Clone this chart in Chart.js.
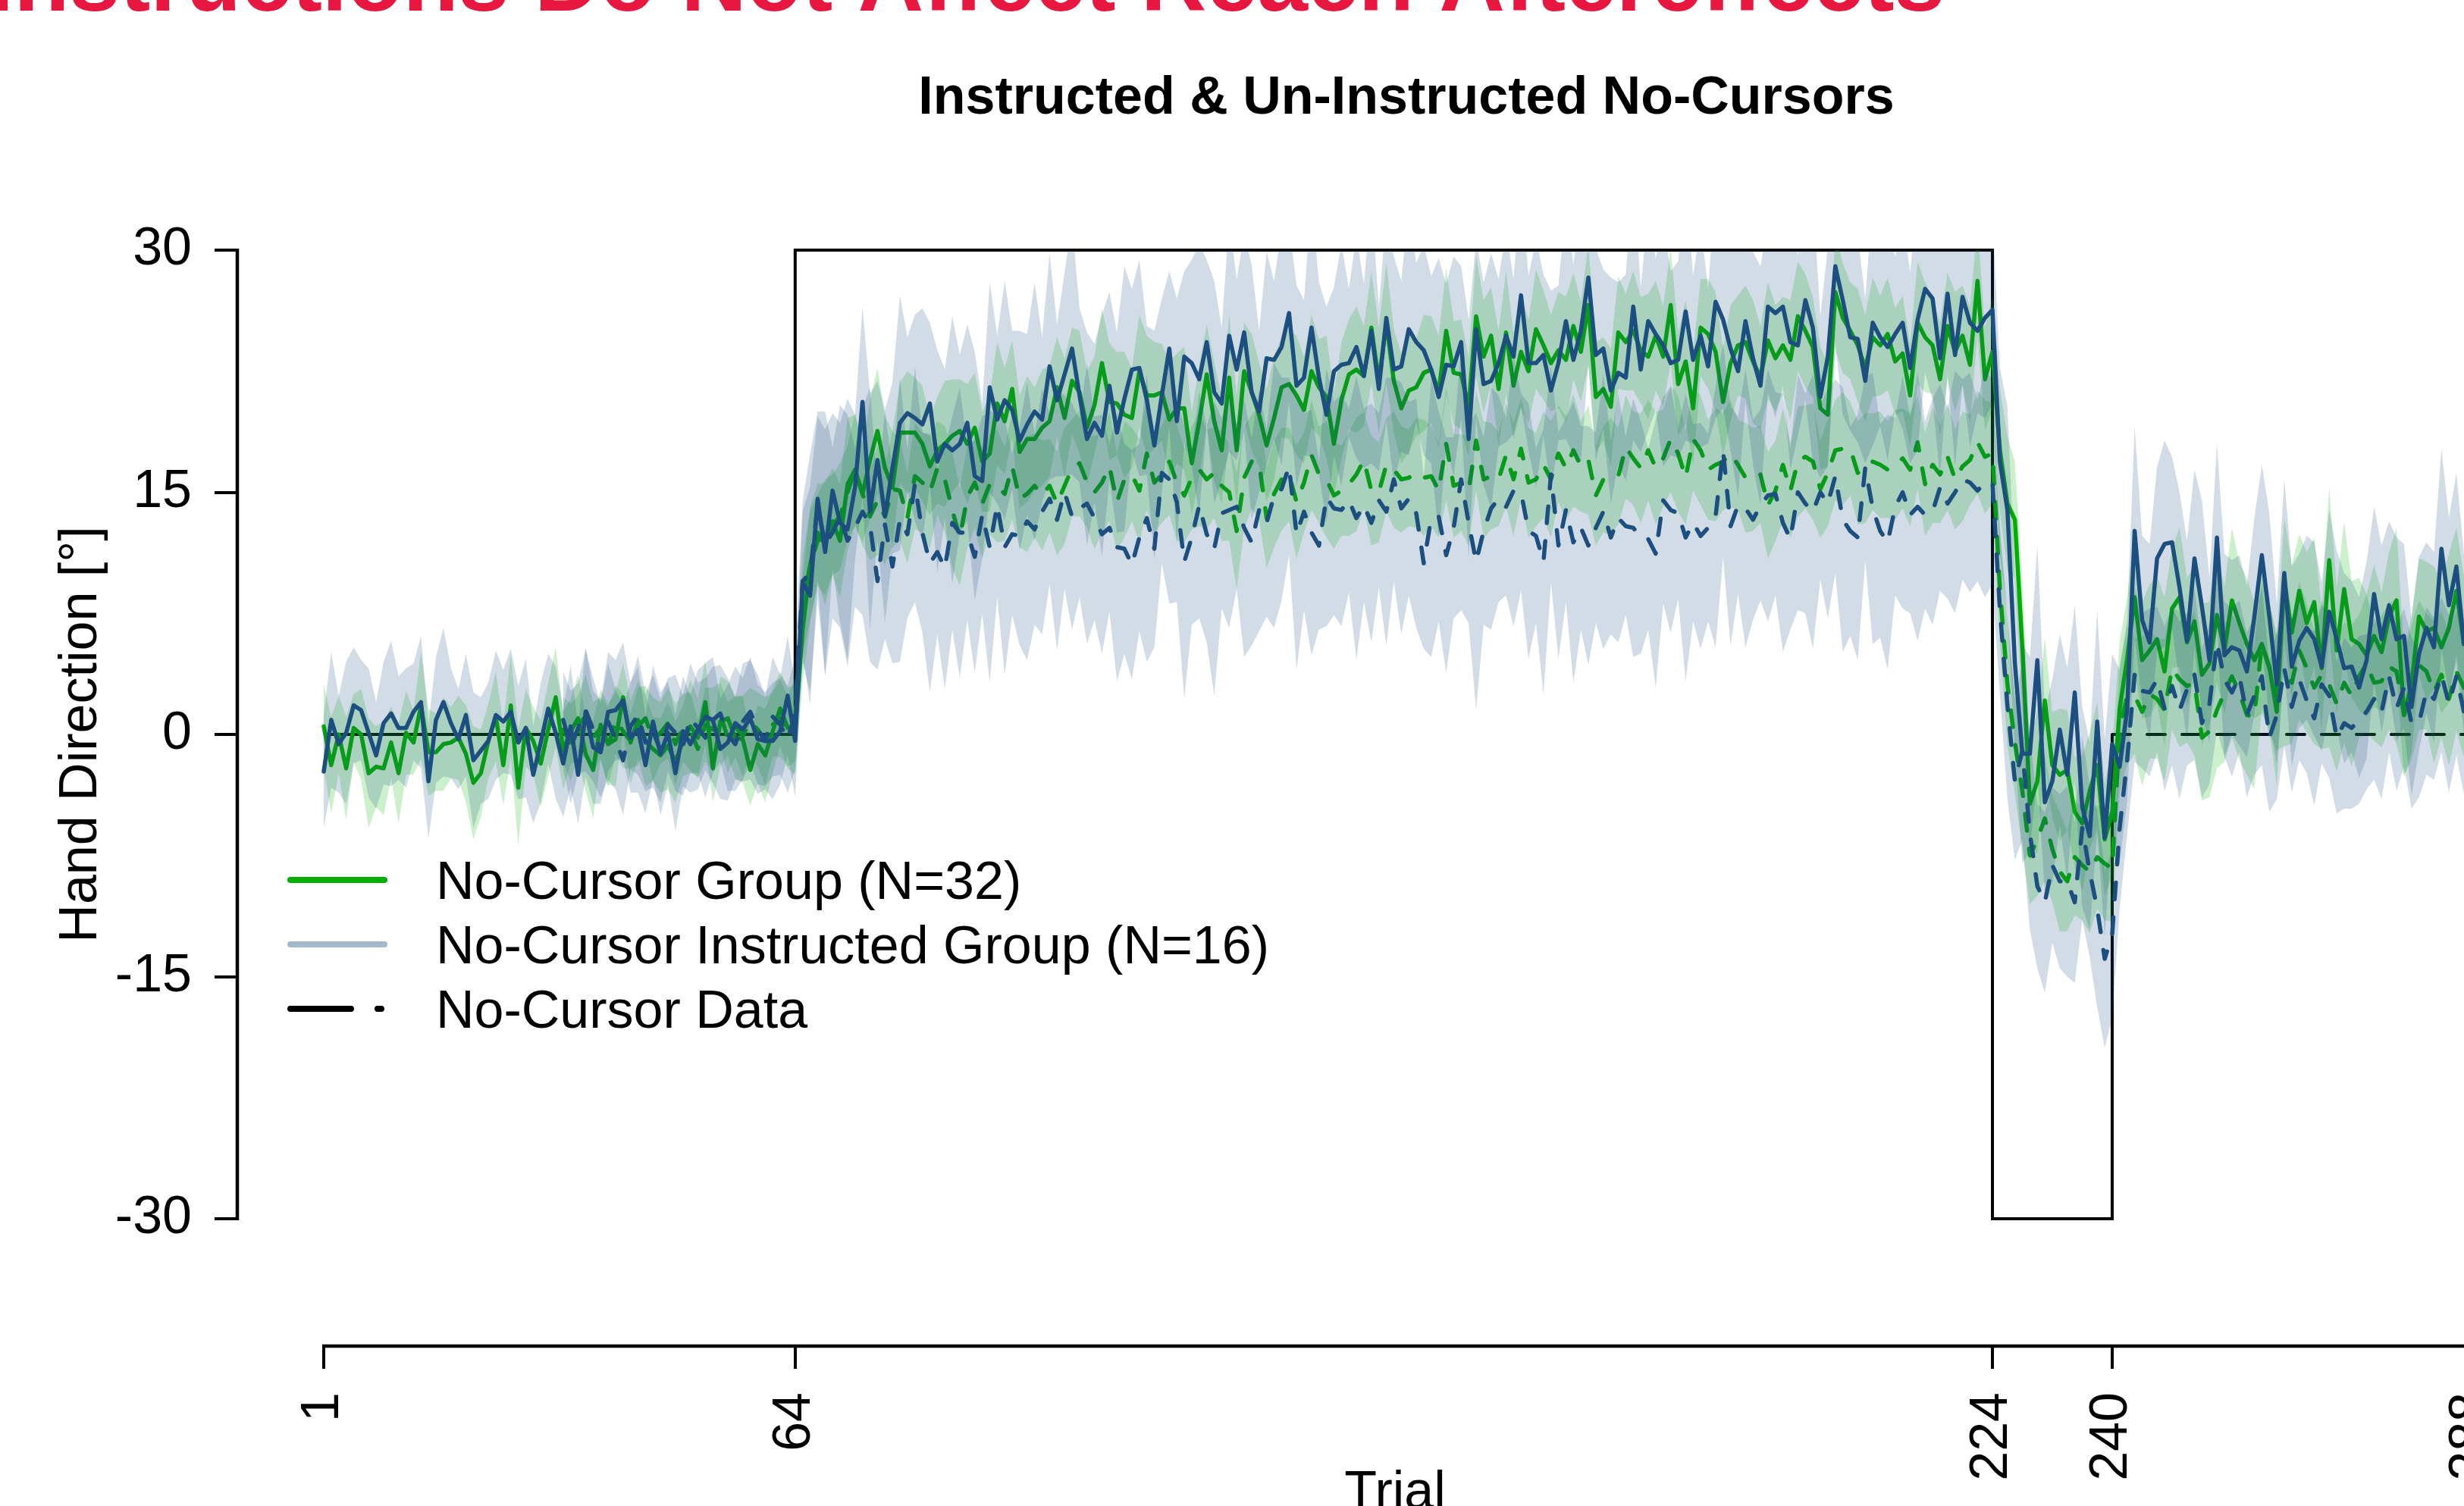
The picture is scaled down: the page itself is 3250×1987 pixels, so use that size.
<!DOCTYPE html>
<html>
<head>
<meta charset="utf-8">
<script src="https://cdn.jsdelivr.net/npm/chart.js@4.4.1/dist/chart.umd.min.js"></script>
<style>
  html, body { margin: 0; padding: 0; overflow: hidden; background: #fff; width: 3250px; height: 1987px; }
  canvas { display: block; }
</style>
</head>
<body>
<canvas id="myChart" width="3290" height="1987"></canvas>
<script>
var yTicks = [-30, -15, 0, 15, 30];
var xTicks = [1, 64, 224, 240, 288];

// perturbation schedule
var schedTrials = [1, 64, 64, 224, 224, 240, 240];
var schedRot = [0, 0, 30, 30, -30, -30, 0];
var clampTrials = [240, 288];
var clampRot = [0, 0];

// No-Cursor Group (N=32), reach trials, trials 1..288
var ncReach = [
  0.5, -1.9, 0.0, -2.1, 0.4, 0.0, -2.4, -2.0, -2.1, -0.5, -2.4, 0.1, -0.5, 1.8, -1.1, -1.1,
  -0.6, -0.5, -0.2, -1.2, -3.0, -2.4, -0.4, 1.1, -1.9, 1.8, -3.3, 0.4, -0.4, -1.8, 0.3, 2.3,
  -1.0, 0.2, 1.0, -1.2, -2.2, 0.6, -0.6, -0.3, 2.3, -0.5, 0.9, -0.4, -0.9, -1.3, -0.7, -1.7,
  -0.4, 0.5, -0.2, 2.0, -2.1, 0.8, 1.0, -0.2, -0.3, -2.2, -0.6, -1.3, 0.2, 1.6, 0.4, 0.3,
  6.5, 10.5, 12.5, 11.8, 13.2, 12.0, 15.5, 16.4, 14.9, 17.0, 18.8, 16.5, 15.3, 18.7, 18.7, 18.7,
  18.0, 16.6, 17.6, 18.0, 18.5, 18.8, 18.0, 19.0, 16.9, 17.4, 20.5, 19.4, 21.4, 17.5, 18.3, 18.3,
  19.0, 19.4, 21.5, 19.6, 21.9, 21.2, 19.0, 20.4, 23.0, 20.6, 20.5, 19.8, 19.6, 22.5, 21.0, 21.0,
  21.2, 19.5, 20.2, 20.2, 16.8, 19.4, 22.3, 19.4, 17.6, 22.1, 17.6, 22.5, 21.2, 19.8, 17.9, 19.6,
  21.5, 21.7, 21.0, 20.1, 22.5, 21.5, 20.9, 18.0, 20.7, 22.3, 22.6, 22.2, 25.2, 21.9, 25.5, 21.9,
  20.2, 21.3, 21.5, 22.4, 22.6, 21.2, 25.0, 22.4, 22.3, 20.3, 25.9, 23.4, 24.7, 21.4, 24.9, 21.6,
  23.7, 22.5, 25.1, 24.1, 23.0, 23.8, 23.2, 25.3, 23.7, 26.6, 20.9, 21.4, 20.3, 24.9, 24.3, 25.0,
  23.8, 23.4, 24.7, 23.4, 26.6, 21.7, 23.1, 20.2, 25.2, 24.8, 23.7, 20.6, 23.0, 24.1, 24.3, 23.1,
  22.1, 24.4, 23.3, 24.1, 23.2, 25.9, 25.0, 24.0, 20.2, 19.8, 27.4, 25.8, 25.0, 24.1, 22.7, 24.6,
  24.1, 24.8, 23.1, 23.6, 21.0, 25.5, 24.6, 24.1, 22.0, 25.3, 23.7, 24.7, 22.9, 28.1, 22.0, 23.7,
  17.6, 14.3, 13.3, 5.4, -4.3, -2.9, 2.1, -1.9, -2.5, -2.2, -4.8, -5.5, -3.5, -1.9, -6.5, -4.8,
  1.6, 4.7, 8.5, 4.6, 5.2, 5.9, 3.9, 7.8, 8.5, 5.7, 7.0, 3.7, 4.4, 7.4, 5.2, 8.3,
  6.9, 5.6, 4.6, 5.6, 4.2, 1.4, 9.6, 6.3, 8.9, 6.9, 8.2, 4.1, 10.8, 5.2, 9.0, 5.9,
  5.6, 4.9, 6.1, 5.1, 7.3, 8.3, 1.2, 3.1, 7.3, 6.4, 6.6, 5.4, 6.6, 8.9, 5.6, 6.0
];
var ncReachCI = [
  2.6, 3.0, 2.4, 3.2, 2.1, 2.8, 3.4, 2.5, 2.9, 2.2, 3.1, 2.6, 2.0, 3.3, 2.7, 2.4,
  2.9, 2.2, 2.6, 3.0, 3.5, 2.7, 2.3, 2.8, 2.5, 3.2, 3.6, 2.4, 2.1, 2.7, 2.9, 3.1,
  2.4, 2.0, 2.7, 2.3, 3.0, 2.2, 2.5, 2.9, 2.1, 2.6, 2.4, 2.8, 2.0, 2.3, 2.7, 2.5,
  2.2, 2.9, 2.4, 2.6, 2.1, 2.8, 2.3, 2.5, 2.7, 2.2, 2.4, 2.9, 2.6, 2.3, 2.5, 2.8,
  3.2, 3.6, 3.0, 3.8, 3.3, 3.5, 4.1, 3.4, 3.0, 3.7, 3.9, 3.2, 3.5, 3.1, 3.8, 3.4,
  3.6, 3.0, 3.3, 3.9, 3.5, 3.2, 3.7, 3.4, 3.1, 3.6, 3.8, 3.3, 3.0, 3.5, 3.9, 3.2,
  3.6, 3.4, 3.1, 3.7, 3.3, 3.8, 3.5, 3.0, 3.4, 3.6, 3.2, 3.9, 3.1, 3.5, 3.7, 3.3,
  3.0, 3.6, 3.4, 3.8, 3.2, 3.5, 3.1, 3.7, 3.3, 3.9, 3.4, 3.0, 3.6, 3.2, 3.5, 3.8,
  3.1, 3.4, 3.7, 3.3, 3.5, 3.0, 3.8, 3.2, 3.6, 3.4, 3.9, 3.1, 3.5, 3.3, 3.7, 3.2,
  3.4, 3.8, 3.0, 3.6, 3.3, 3.5, 3.9, 3.2, 3.4, 3.1, 3.7, 3.5, 3.0, 3.6, 3.8, 3.3,
  3.5, 3.2, 3.7, 3.4, 3.0, 3.6, 3.9, 3.3, 3.1, 3.8, 3.4, 3.2, 3.6, 3.5, 3.0, 3.7,
  3.3, 3.9, 3.4, 3.1, 3.6, 3.2, 3.8, 3.5, 3.0, 3.4, 3.7, 3.3, 3.6, 3.1, 3.5, 3.8,
  3.2, 3.6, 3.3, 3.0, 3.7, 3.4, 3.5, 3.1, 3.8, 3.2, 3.6, 3.4, 3.0, 3.5, 3.3, 3.7,
  3.1, 3.5, 3.3, 3.6, 3.2, 3.8, 3.4, 3.0, 3.5, 3.3, 3.7, 3.1, 3.6, 3.4, 3.2, 3.5,
  3.8, 4.2, 3.6, 4.0, 3.5, 4.4, 3.9, 3.3, 4.1, 3.7, 3.4, 4.2, 3.6, 3.9, 3.5, 4.0,
  4.2, 3.8, 4.5, 3.6, 4.1, 3.9, 4.6, 3.7, 4.3, 4.0, 3.5, 4.4, 3.8, 4.2, 3.9, 4.5,
  3.7, 4.1, 3.6, 4.3, 3.9, 4.6, 3.8, 4.2, 3.5, 4.4, 4.0, 3.7, 4.5, 3.9, 4.2, 3.6,
  4.1, 3.8, 4.4, 3.7, 4.0, 4.5, 3.9, 4.2, 3.6, 4.3, 3.8, 4.1, 4.6, 3.9, 4.2, 4.0
];

// No-Cursor Group (N=32), no-cursor trials
var ncNoCur = [
  null, null, null, null, null, null, null, null, null, null, null, null, null, null, null, null,
  null, null, null, null, null, null, null, null, null, null, null, null, null, null, null, null,
  0.3, -0.5, 0.6, 1.1, -0.2, 0.4, -0.8, 0.9, 0.2, -0.4, 0.5, 1.0, -0.3, 0.1, 0.7, -0.6,
  0.4, 0.2, -0.9, 0.6, 0.3, 1.2, -0.2, 0.5, -0.1, 0.8, 0.3, -0.4, 0.6, 1.0, 0.2, 0.9,
  8.0, 10.5, 12.0, 12.2, 13.0, 13.5, 15.0, 16.4, 14.9, 13.5, 14.5, 13.5, 15.2, 15.1, 13.4, 16.0,
  15.6, 15.0, 16.5, 15.8, 13.9, 12.2, 14.7, 15.6, 14.3, 15.5, 15.4, 14.9, 16.6, 14.6, 14.9, 15.4,
  14.8, 15.4, 14.3, 15.4, 16.5, 16.8, 15.6, 15.0, 15.6, 16.6, 14.4, 15.8, 16.1, 15.1, 17.4, 15.6,
  16.1, 16.9, 15.6, 14.8, 15.9, 16.4, 15.8, 16.2, 15.4, 15.0, 12.6, 15.9, 16.9, 16.8, 13.4, 14.9,
  15.8, 16.1, 14.4, 15.6, 17.3, 16.1, 15.8, 14.8, 15.1, 15.5, 16.1, 17.0, 15.1, 15.0, 16.7, 16.4,
  15.8, 15.9, 16.2, 15.9, 16.0, 15.1, 18.0, 15.4, 15.6, 15.1, 18.2, 15.8, 16.0, 15.8, 17.3, 15.8,
  17.7, 15.6, 15.8, 16.7, 15.8, 17.4, 16.5, 17.6, 16.6, 17.0, 14.8, 15.8, 16.0, 16.0, 17.8, 17.1,
  16.5, 17.6, 16.5, 17.1, 18.3, 17.4, 15.9, 18.3, 17.6, 16.4, 16.7, 16.9, 17.4, 16.7, 15.9, 15.8,
  16.1, 14.2, 15.1, 16.7, 15.1, 16.9, 17.2, 16.9, 15.2, 16.2, 17.6, 17.7, 17.7, 16.2, 16.5, 16.9,
  16.7, 16.4, 16.7, 17.1, 16.4, 18.1, 15.5, 16.7, 16.1, 17.2, 15.8, 16.6, 17.0, 18.1, 17.2, 17.4,
  9.0, 3.1, -0.5, -3.5, -7.5, -6.5, -5.2, -7.1, -8.5, -9.1, -7.6, -8.1, -8.5, -7.6, -8.0, -8.3,
  0.4, 2.4, 2.4, 1.4, 2.5, 2.2, 1.5, 4.1, 3.4, 3.0, 3.2, -0.2, 0.2, 1.5, 2.6, 3.6,
  2.6, 1.2, 1.1, 5.6, 4.1, 2.6, 3.7, 3.2, 5.2, 4.1, 2.9, 3.7, 3.1, 1.9, 3.2, 2.4,
  3.6, 4.4, 3.2, 3.3, 4.2, 3.9, 1.2, 2.6, 4.3, 3.9, 2.6, 3.7, 2.2, 3.9, 2.9, 3.4
];
var ncNoCurCI = [
  null, null, null, null, null, null, null, null, null, null, null, null, null, null, null, null,
  null, null, null, null, null, null, null, null, null, null, null, null, null, null, null, null,
  2.0, 2.4, 1.8, 2.6, 2.2, 1.9, 2.5, 2.1, 2.3, 1.7, 2.4, 2.0, 2.6, 1.9, 2.2, 2.5,
  2.1, 2.4, 1.8, 2.3, 2.6, 2.0, 2.2, 1.9, 2.5, 2.1, 2.3, 2.7, 2.0, 2.4, 2.2, 2.6,
  3.0, 3.4, 2.8, 3.6, 3.1, 3.3, 2.9, 3.5, 3.2, 2.7, 3.4, 3.0, 3.6, 3.1, 2.8, 3.3,
  3.1, 3.5, 2.9, 3.3, 3.6, 3.0, 3.2, 2.8, 3.4, 3.1, 3.5, 2.9, 3.3, 3.0, 3.6, 3.2,
  3.4, 2.9, 3.2, 3.6, 3.0, 3.3, 2.8, 3.5, 3.1, 3.4, 3.0, 3.6, 2.9, 3.2, 3.5, 3.1,
  3.0, 3.3, 3.6, 2.9, 3.2, 3.5, 3.1, 2.8, 3.4, 3.0, 3.6, 3.2, 2.9, 3.5, 3.1, 3.3,
  3.2, 2.9, 3.5, 3.1, 3.4, 3.0, 3.6, 3.3, 2.8, 3.2, 3.5, 3.0, 3.4, 3.1, 2.9, 3.6,
  3.3, 3.0, 3.4, 3.6, 3.1, 2.9, 3.5, 3.2, 3.0, 3.4, 3.1, 3.6, 3.3, 2.9, 3.2, 3.5,
  3.1, 3.4, 2.9, 3.3, 3.6, 3.0, 3.2, 3.5, 2.8, 3.4, 3.1, 3.3, 3.6, 3.0, 3.2, 2.9,
  3.4, 3.1, 3.5, 3.0, 3.3, 3.6, 2.9, 3.2, 3.4, 3.1, 3.5, 3.0, 3.3, 2.8, 3.4, 3.2,
  3.0, 3.3, 3.1, 3.5, 2.9, 3.4, 3.2, 3.6, 3.0, 3.3, 3.1, 3.5, 2.9, 3.2, 3.4, 3.0,
  3.3, 3.0, 3.4, 3.1, 3.5, 2.9, 3.2, 3.6, 3.0, 3.3, 3.1, 3.4, 2.8, 3.2, 3.5, 3.1,
  3.4, 3.8, 3.2, 3.6, 3.0, 3.5, 3.9, 3.3, 3.7, 3.1, 3.6, 3.4, 3.8, 3.2, 3.5, 3.3,
  3.9, 4.3, 3.6, 4.6, 4.0, 3.7, 4.4, 3.8, 4.2, 3.5, 4.5, 3.9, 4.1, 3.6, 4.3, 3.8,
  4.2, 3.7, 4.5, 3.9, 4.1, 3.6, 4.4, 3.8, 4.3, 4.0, 3.5, 4.6, 3.9, 4.2, 3.7, 4.4,
  3.8, 4.3, 3.6, 4.1, 3.9, 4.5, 3.7, 4.2, 4.0, 3.6, 4.4, 3.9, 4.1, 3.7, 4.3, 4.0
];

// No-Cursor Instructed Group (N=16), reach trials
var insReach = [
  -2.3, 0.9, -0.6, 0.1, 1.8, 1.5, 0.1, -1.3, 0.7, 1.3, 0.4, 0.4, 1.4, 2.0, -2.9, 0.9,
  2.0, 0.7, -0.3, 1.2, -1.6, -1.0, -0.4, 1.2, 0.8, 1.4, -0.5, 0.4, -2.5, -0.5, 1.6, 0.1,
  -1.8, 0.5, -2.5, 1.4, -0.8, -1.1, 1.4, 1.5, 2.1, -0.2, 0.3, -1.9, 0.8, -1.2, 0.1, -2.4,
  0.2, -0.6, 0.3, 1.1, 0.9, -0.9, -0.5, 0.7, 0.3, 1.0, -0.3, -0.4, -0.4, 0.2, 2.4, -0.4,
  9.4, 8.6, 14.6, 11.3, 15.1, 13.1, 12.7, 15.3, 20.6, 13.8, 17.0, 13.5, 16.5, 19.3, 19.9, 19.6,
  19.2, 20.5, 16.9, 18.0, 17.6, 18.0, 19.3, 16.0, 15.7, 21.5, 19.5, 20.7, 20.1, 18.2, 19.2, 20.0,
  19.5, 22.8, 20.7, 22.3, 23.9, 21.0, 18.3, 19.3, 18.5, 21.6, 18.7, 20.8, 22.6, 22.7, 20.7, 17.9,
  21.0, 23.9, 19.4, 23.4, 23.0, 22.0, 24.3, 21.2, 20.5, 24.7, 22.6, 24.9, 21.2, 20.0, 23.3, 23.2,
  24.0, 26.1, 21.6, 22.1, 25.2, 22.1, 19.8, 22.5, 22.9, 23.0, 24.0, 22.2, 25.0, 21.4, 25.8, 22.6,
  22.8, 25.1, 24.3, 23.8, 22.6, 20.9, 22.9, 22.8, 24.3, 18.3, 25.1, 21.7, 21.9, 23.0, 24.7, 23.4,
  27.2, 23.0, 23.0, 23.5, 21.3, 23.0, 25.6, 23.2, 25.0, 28.3, 23.5, 23.9, 21.3, 22.4, 22.1, 26.5,
  22.6, 25.6, 24.8, 24.1, 23.0, 23.2, 26.2, 23.2, 24.7, 22.8, 26.8, 25.7, 23.9, 22.5, 25.6, 23.3,
  21.6, 26.5, 26.1, 26.5, 24.3, 24.1, 26.9, 25.2, 20.9, 23.4, 29.0, 26.9, 24.6, 24.5, 21.9, 25.5,
  24.6, 24.0, 24.8, 25.5, 22.7, 25.7, 27.6, 27.0, 23.3, 27.3, 23.5, 27.1, 25.5, 25.0, 25.8, 26.3,
  16.9, 13.9, 4.4, -1.2, -1.2, 4.6, -4.2, -2.9, 0.3, -2.5, 2.6, -4.5, -6.3, 0.8, -6.4, -0.6,
  -2.0, 1.5, 12.6, 7.1, 5.7, 10.9, 11.8, 11.9, 9.1, 5.8, 10.9, 7.9, 4.6, 12.2, 4.9, 5.4,
  5.2, 3.9, 7.3, 11.1, 7.3, 3.1, 10.0, 4.2, 5.8, 6.6, 5.9, 4.2, 7.6, 5.9, 4.1, 4.2,
  2.9, 4.6, 8.7, 5.9, 8.0, 5.9, 6.1, 1.7, 5.0, 6.6, 5.4, 11.5, 8.0, 10.4, 5.6, 7.0
];
var insReachCI = [
  3.5, 4.2, 3.0, 4.4, 3.6, 3.1, 4.0, 3.3, 3.8, 4.5, 3.2, 3.7, 3.0, 4.1, 3.5, 3.9,
  4.6, 3.4, 3.1, 3.8, 4.2, 3.3, 3.6, 4.0, 3.2, 3.9, 3.5, 4.3, 3.0, 3.7, 3.4, 4.1,
  3.3, 3.8, 3.0, 4.0, 3.5, 3.2, 3.7, 3.1, 3.6, 3.4, 3.9, 3.0, 3.5, 3.8, 3.2, 3.6,
  3.4, 3.0, 3.7, 3.3, 3.9, 3.1, 3.6, 3.5, 3.2, 3.8, 3.4, 3.0, 3.6, 3.3, 3.7, 3.5,
  4.4, 6.8, 5.1, 7.6, 4.8, 6.2, 8.1, 4.5, 5.9, 7.3, 4.9, 6.6, 5.3, 7.9, 4.7, 6.4,
  7.2, 5.0, 6.9, 4.6, 8.3, 5.5, 6.1, 7.7, 4.8, 6.5, 5.2, 7.4, 4.9, 6.8, 5.6, 8.0,
  5.1, 7.0, 4.7, 6.3, 7.8, 5.4, 6.6, 4.9, 7.5, 5.8, 6.2, 8.2, 5.0, 6.7, 4.6, 7.1,
  6.0, 4.8, 7.6, 5.3, 6.4, 8.4, 5.1, 6.9, 4.7, 7.2, 5.6, 6.1, 7.9, 5.0, 6.6, 4.9,
  7.3, 5.5, 6.2, 4.8, 8.0, 5.9, 6.7, 5.2, 7.5, 4.6, 6.9, 5.7, 8.2, 5.1, 6.4, 7.0,
  5.3, 7.8, 4.9, 6.5, 5.8, 8.6, 5.0, 6.8, 4.7, 7.4, 5.5, 6.3, 7.9, 5.2, 6.6, 4.8,
  6.9, 5.4, 7.7, 5.0, 6.2, 4.8, 7.3, 5.9, 8.1, 5.3, 6.6, 4.9, 7.0, 5.6, 6.4, 8.3,
  5.1, 6.8, 4.7, 7.5, 5.7, 6.1, 8.0, 5.2, 6.9, 4.8, 7.2, 5.5, 6.3, 7.8, 5.0, 6.6,
  7.4, 5.3, 6.5, 4.9, 7.9, 5.6, 6.2, 8.3, 5.0, 6.8, 4.7, 7.1, 5.8, 6.4, 5.1, 7.6,
  5.5, 7.0, 4.8, 6.6, 5.9, 8.1, 5.2, 6.3, 7.4, 4.9, 6.9, 5.4, 7.7, 5.1, 6.2, 5.8,
  5.8, 6.4, 5.5, 6.8, 6.0, 7.1, 5.7, 6.3, 5.9, 6.6, 5.4, 6.2, 5.8, 6.9, 6.1, 5.6,
  6.0, 5.6, 6.5, 5.2, 6.1, 5.7, 6.4, 5.3, 5.9, 6.2, 5.5, 6.6, 5.1, 5.8, 6.3, 5.4,
  5.9, 5.3, 6.1, 5.6, 6.4, 5.0, 5.8, 6.2, 5.4, 5.7, 6.0, 5.2, 6.3, 5.5, 5.9, 5.3,
  5.6, 6.1, 5.4, 5.8, 5.2, 6.3, 5.7, 5.5, 6.0, 5.3, 5.9, 6.2, 5.4, 5.8, 5.6, 6.0
];

// No-Cursor Instructed Group (N=16), no-cursor trials
var insNoCur = [
  null, null, null, null, null, null, null, null, null, null, null, null, null, null, null, null,
  null, null, null, null, null, null, null, null, null, null, null, null, null, null, null, null,
  0.9, -0.8, 0.4, 1.5, 0.3, -1.0, 0.8, -0.3, -1.6, 0.5, 1.2, -0.5, 0.2, -1.0, 0.6, 0.1,
  -0.7, 1.0, 0.4, -0.2, 0.9, 1.3, 0.0, -0.6, 0.8, 1.4, 0.3, -0.4, 1.1, 0.6, -0.3, 1.3,
  9.5, 10.0, 14.2, 11.8, 12.5, 13.5, 12.0, 12.8, 13.8, 13.0, 9.5, 13.0, 10.4, 13.3, 12.4, 15.5,
  12.5, 10.6, 11.3, 10.3, 13.1, 12.5, 12.5, 11.0, 13.6, 11.6, 14.2, 11.6, 12.4, 12.3, 13.2, 12.7,
  13.8, 14.6, 13.3, 15.0, 13.5, 14.0, 14.3, 13.4, 12.4, 12.8, 11.6, 11.5, 10.5, 12.2, 13.4, 11.5,
  16.2, 15.8, 14.4, 10.7, 12.2, 14.2, 12.4, 11.5, 13.7, 13.9, 14.1, 12.8, 11.9, 13.9, 13.1, 14.8,
  15.2, 16.6, 12.4, 13.8, 12.5, 11.7, 14.7, 14.0, 13.9, 14.5, 13.4, 14.2, 13.1, 14.5, 13.8, 15.8,
  14.0, 14.6, 13.7, 10.6, 13.4, 13.5, 11.1, 12.8, 15.8, 13.1, 10.7, 12.6, 14.0, 14.6, 14.1, 15.1,
  15.0, 12.6, 12.3, 10.7, 16.1, 11.7, 13.9, 11.9, 12.8, 11.7, 12.8, 13.8, 12.2, 13.4, 12.9, 12.8,
  12.2, 12.1, 11.2, 14.5, 13.9, 13.7, 12.2, 13.1, 12.3, 12.8, 13.5, 17.6, 12.9, 14.2, 14.0, 13.3,
  14.2, 14.8, 14.9, 13.1, 12.1, 15.0, 14.3, 13.8, 15.0, 14.3, 16.0, 13.3, 12.6, 12.2, 16.5, 14.0,
  12.6, 11.9, 14.1, 15.0, 13.6, 14.1, 13.6, 13.8, 15.3, 14.3, 15.0, 15.8, 15.6, 15.1, 15.6, 15.6,
  7.7, 1.8, -2.9, -1.0, -6.1, -9.4, -10.4, -8.1, -9.1, -9.1, -10.4, -5.8, -8.5, -10.8, -13.9, -12.4,
  -5.8, -1.6, 3.7, 2.7, 2.6, 3.4, 1.6, 3.0, 1.5, 2.8, 3.7, 0.7, 1.9, 5.7, 3.4, 2.6,
  3.6, 1.2, 2.4, 3.6, -0.2, 1.2, 4.1, 1.7, 3.4, 2.1, 1.0, 3.1, 2.4, -0.2, 0.7, 0.4,
  0.9, 1.4, 2.2, 1.4, 3.6, 1.6, 2.9, 0.7, 0.7, 2.7, 2.2, 3.7, 1.9, 3.6, 1.4, 2.0
];
var insNoCurCI = [
  null, null, null, null, null, null, null, null, null, null, null, null, null, null, null, null,
  null, null, null, null, null, null, null, null, null, null, null, null, null, null, null, null,
  3.0, 3.5, 2.8, 3.8, 3.2, 2.9, 3.6, 3.1, 3.4, 2.7, 3.7, 3.0, 3.5, 3.2, 2.9, 3.6,
  3.1, 3.4, 2.8, 3.7, 3.3, 3.0, 3.5, 2.9, 3.6, 3.2, 3.4, 2.8, 3.7, 3.1, 3.3, 3.5,
  5.0, 7.4, 5.8, 8.2, 5.3, 6.9, 7.8, 4.9, 6.4, 8.5, 5.5, 7.1, 6.0, 8.8, 5.2, 7.3,
  6.2, 8.0, 5.1, 7.5, 6.6, 9.0, 5.4, 7.2, 6.1, 8.4, 5.7, 7.9, 5.0, 6.8, 8.6, 5.9,
  7.6, 5.3, 8.1, 6.0, 7.0, 5.5, 8.7, 6.3, 7.4, 5.2, 8.3, 6.5, 7.1, 5.8, 8.9, 6.1,
  5.6, 7.7, 6.2, 8.5, 5.4, 7.0, 6.7, 9.1, 5.9, 7.3, 5.1, 8.0, 6.4, 7.5, 5.8, 8.2,
  6.9, 5.5, 8.4, 6.1, 7.6, 5.2, 8.0, 6.6, 7.2, 5.7, 8.8, 6.0, 7.4, 5.4, 8.3, 6.3,
  7.8, 6.0, 7.1, 5.3, 8.6, 6.5, 7.3, 5.6, 8.1, 6.2, 9.2, 5.8, 7.5, 6.4, 5.5, 8.4,
  6.1, 7.9, 5.4, 8.2, 6.7, 7.0, 5.7, 8.7, 6.3, 7.4, 5.9, 8.5, 6.0, 7.7, 5.5, 8.0,
  7.2, 5.6, 8.3, 6.4, 7.6, 5.3, 8.9, 6.1, 7.0, 5.8, 8.1, 6.6, 7.4, 5.5, 8.6, 6.2,
  5.9, 7.8, 6.3, 8.0, 5.6, 7.3, 6.8, 8.5, 5.4, 7.1, 6.0, 8.2, 6.5, 7.6, 5.7, 8.4,
  6.6, 7.9, 5.5, 7.2, 6.1, 8.3, 5.8, 7.0, 6.4, 5.9, 7.5, 6.2, 6.8, 5.6, 7.1, 6.3,
  5.2, 5.8, 4.9, 5.5, 6.0, 5.1, 5.6, 4.8, 5.4, 5.9, 5.0, 5.7, 5.3, 6.1, 5.5, 5.2,
  5.0, 4.6, 5.4, 4.8, 5.2, 4.5, 5.1, 4.9, 5.5, 4.7, 5.3, 4.6, 5.0, 5.4, 4.8, 5.2,
  4.7, 5.1, 4.9, 5.5, 4.6, 5.2, 4.8, 5.3, 5.0, 4.5, 5.4, 4.9, 5.1, 4.7, 5.3, 5.0,
  5.2, 4.8, 5.0, 5.4, 4.7, 5.1, 4.9, 5.3, 4.6, 5.2, 5.0, 4.8, 5.5, 4.9, 5.1, 4.7
];

var green = "#00b000";
var greenBand = "rgba(0,176,0,0.2)";
var blue = "#1c4f80";
var blueBand = "rgba(28,79,128,0.2)";
var blueLegend = "#a4b8cc";
var fontFam = '"Liberation Sans", Arial, Helvetica, sans-serif';

function pts(vals, ci, sign) {
  return vals.map(function (v, i) {
    var y = v;
    if (ci) y = (v === null || ci[i] === null) ? null : v + sign * ci[i];
    return { x: i + 1, y: y };
  });
}
function xy(xs, ys) {
  return xs.map(function (x, i) { return { x: x, y: ys[i] }; });
}

function bandPair(vals, ci, color, order) {
  return [
    { data: pts(vals, ci, 1), borderWidth: 0, pointRadius: 0, backgroundColor: color, fill: "+1", order: order, clip: false },
    { data: pts(vals, ci, -1), borderWidth: 0, pointRadius: 0, fill: false, order: order, clip: false }
  ];
}
function line(vals, color, dashed, order) {
  return {
    data: pts(vals), borderColor: color, borderWidth: 5.5, pointRadius: 0, fill: false,
    borderDash: dashed ? [22, 24] : [], borderCapStyle: "round", borderJoinStyle: "round",
    order: order, clip: false
  };
}

var datasets = [].concat(
  [{ data: xy(schedTrials, schedRot), borderColor: "#000", borderWidth: 4, pointRadius: 0, fill: false, order: 20, clip: false },
   { data: xy(clampTrials, clampRot), borderColor: "#000", borderWidth: 4, borderDash: [24, 22], borderCapStyle: "round", pointRadius: 0, fill: false, order: 20, clip: false }],
  bandPair(ncReach, ncReachCI, greenBand, 10),
  bandPair(ncNoCur, ncNoCurCI, greenBand, 10),
  [line(ncReach, green, false, 8), line(ncNoCur, green, true, 8)],
  bandPair(insReach, insReachCI, blueBand, 6),
  bandPair(insNoCur, insNoCurCI, blueBand, 6),
  [line(insReach, blue, false, 4), line(insNoCur, blue, true, 4)]
);

var decor = {
  id: "decor",
  afterDraw: function (chart) {
    var ctx = chart.ctx, xs = chart.scales.x, ys = chart.scales.y, area = chart.chartArea;
    ctx.save();
    ctx.strokeStyle = "#000";
    ctx.lineWidth = 4.5;
    ctx.beginPath();
    ctx.moveTo(area.left, ys.getPixelForValue(yTicks[yTicks.length - 1]) - 2);
    ctx.lineTo(area.left, ys.getPixelForValue(yTicks[0]) + 2);
    ctx.moveTo(xs.getPixelForValue(xTicks[0]) - 2, area.bottom);
    ctx.lineTo(xs.getPixelForValue(xTicks[xTicks.length - 1]) + 2, area.bottom);
    ctx.stroke();

    ctx.fillStyle = "#e8173f";
    ctx.font = "bold 120px " + fontFam;
    ctx.textAlign = "center";
    ctx.textBaseline = "alphabetic";
    ctx.fillText("Instructions Do Not Affect Reach Aftereffects", 1275, 14);

    ctx.fillStyle = "#000";
    ctx.font = "bold 70px " + fontFam;
    ctx.fillText("Instructed & Un-Instructed No-Cursors", 1855, 150);

    ctx.font = "70px " + fontFam;
    ctx.fillText("Trial", 1840, 1990);

    ctx.save();
    ctx.translate(108, 969);
    ctx.rotate(-Math.PI / 2);
    ctx.textBaseline = "middle";
    ctx.fillText("Hand Direction [\u00b0]", 0, 0);
    ctx.restore();

    // legend
    var rows = [
      { y: 1161, color: green, dash: [], label: "No-Cursor Group (N=32)" },
      { y: 1246, color: blueLegend, dash: [], label: "No-Cursor Instructed Group (N=16)" },
      { y: 1331, color: "#000", dash: [80, 35], label: "No-Cursor Data" }
    ];
    ctx.lineWidth = 8;
    ctx.lineCap = "round";
    ctx.textAlign = "left";
    ctx.textBaseline = "alphabetic";
    rows.forEach(function (r) {
      ctx.strokeStyle = r.color;
      ctx.setLineDash(r.dash);
      ctx.beginPath();
      ctx.moveTo(383, r.y);
      ctx.lineTo(r.dash.length ? 503 : 507, r.y);
      ctx.stroke();
      ctx.fillText(r.label, 575, r.y + 25);
    });
    ctx.restore();
  }
};

var ctx = document.getElementById("myChart").getContext("2d");
var myChart = new Chart(ctx, {
  type: "line",
  data: { datasets: datasets },
  options: {
    responsive: false,
    animation: false,
    events: [],
    layout: { padding: { top: 330, right: 29, bottom: 0, left: 0 } },
    plugins: { legend: { display: false }, tooltip: { enabled: false }, title: { display: false } },
    elements: { line: { tension: 0 } },
    scales: {
      x: {
        type: "linear", min: -10.55, max: 288.13,
        afterBuildTicks: function (s) { s.ticks = xTicks.map(function (v) { return { value: v }; }); },
        afterFit: function (s) { s.height = 211; s.paddingLeft = 0; s.paddingRight = 0; },
        ticks: { autoSkip: false, minRotation: 90, maxRotation: 90, padding: 31, color: "#000", font: { size: 70, family: fontFam } },
        grid: { drawOnChartArea: false, drawTicks: true, tickLength: 30, lineWidth: 4, color: "#000" },
        border: { display: false }
      },
      y: {
        type: "linear", min: -37.887, max: 30,
        afterBuildTicks: function (s) { s.ticks = yTicks.map(function (v) { return { value: v }; }); },
        afterFit: function (s) { s.width = 313; },
        ticks: { padding: 30, color: "#000", font: { size: 70, family: fontFam } },
        grid: { drawOnChartArea: false, drawTicks: true, tickLength: 30, lineWidth: 4, color: "#000" },
        border: { display: false }
      }
    }
  },
  plugins: [decor]
});
</script>
</body>
</html>
